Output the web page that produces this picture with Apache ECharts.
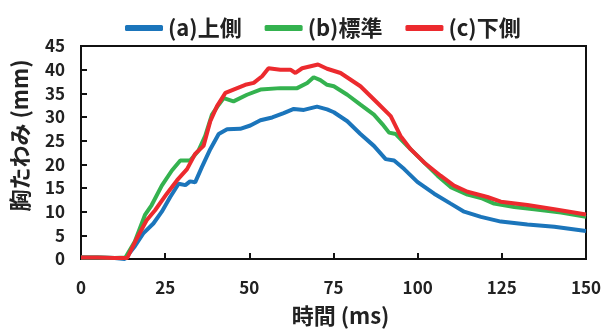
<!DOCTYPE html>
<html><head><meta charset="utf-8">
<script src="https://cdn.jsdelivr.net/npm/echarts@6/dist/echarts.min.js"></script>
<style>html,body{margin:0;padding:0;background:#fff}#c{width:609px;height:332px}</style>
</head><body><div id="c"></div>
<script>
const seriesNames = ['(a)上側', '(b)標準', '(c)下側'];
const xTicks = [0, 25, 50, 75, 100, 125, 150];
const yTicks = [0, 5, 10, 15, 20, 25, 30, 35, 40, 45];
const upper = [[0,0.3],[5,0.3],[10,0.2],[13,0.0],[16,2.7],[18.5,5.4],[21.5,7.5],[24,10],[26.5,13.1],[29,15.9],[31,15.6],[32.4,16.4],[33.9,16.2],[35.9,19.4],[38.4,23.2],[40.9,26.4],[43.4,27.4],[47.3,27.5],[50.3,28.2],[53.3,29.3],[56.8,29.9],[60.2,30.8],[63.2,31.7],[66.2,31.5],[70.1,32.2],[73.1,31.6],[75.1,31.0],[79.1,29.1],[83,26.4],[87,23.9],[90.5,21.1],[93,20.8],[96,19],[99.9,16.3],[104.9,13.8],[109.8,11.7],[113.8,10],[118.8,8.9],[124.7,7.9],[132.6,7.3],[140.6,6.8],[150,5.9]];
const standard = [[0,0.3],[5,0.3],[10,0.2],[13.2,0.3],[16,3.7],[19,9.3],[21,11.4],[24,15.5],[27,18.7],[29.5,20.8],[32.4,20.8],[34.9,22.9],[36.9,26],[38.9,30.5],[40.9,32.6],[42.4,34],[45.3,33.3],[49.3,34.7],[53.3,35.8],[59.2,36.1],[64.2,36.1],[67.2,37.2],[69.1,38.4],[71.1,37.8],[73.1,36.8],[75.1,36.5],[79.1,34.7],[83,32.6],[87,30.5],[89.5,28.5],[91.5,26.7],[93.5,26.4],[96.9,23.9],[100.9,21.1],[105.9,17.6],[109.8,15.2],[114.8,13.6],[118.8,12.9],[122.7,11.7],[128.7,11],[134.6,10.5],[142.6,9.8],[150,8.9]];
const lower = [[0,0.3],[5,0.3],[10,0.2],[13.7,0.2],[16.6,4.4],[19.5,8.2],[22,10.3],[25.5,13.8],[28.5,16.6],[31.5,19],[33.9,22.2],[36.4,23.9],[38.4,29.1],[40.4,32.3],[42.9,35.1],[45.3,35.8],[48.8,36.8],[51.3,37.2],[53.8,38.6],[55.7,40.3],[59.2,40],[62.2,40],[63.7,39.3],[65.7,40.3],[70.4,41.1],[73.1,40.2],[77.1,39.3],[83,36.5],[88,33],[92,30.2],[94.9,26],[97.9,23.2],[101.9,20.4],[106.8,17.6],[110.8,15.5],[114.8,14.2],[120.7,13.1],[124.7,12.1],[132.6,11.4],[140.6,10.5],[150,9.4]];
const colors = ['#1b75bb', '#34b24f', '#ec2a2e'];
const chart = echarts.init(document.getElementById('c'));
const font = '"Noto Sans CJK JP", "Noto Sans", sans-serif';
const mk = (name, data, color) => ({
  name, type: 'line', data, showSymbol: false, symbol: 'none', smooth: false,
  lineStyle: { color, width: 4 }, itemStyle: { color }
});
chart.setOption({
  animation: false,
  legend: {
    top: 12, left: 120, itemGap: 23, itemWidth: 38, itemHeight: 6, icon: 'roundRect',
    textStyle: { fontFamily: font, fontWeight: 'bold', fontSize: 22, color: '#222' },
    data: seriesNames
  },
  grid: { left: 81, right: 23, top: 46, bottom: 71, show: true, borderColor: '#111', borderWidth: 2, containLabel: false },
  xAxis: {
    type: 'value', min: 0, max: 150, interval: 25,
    name: '時間 (ms)', nameLocation: 'middle', nameGap: 46,
    nameTextStyle: { fontFamily: font, fontWeight: 'bold', fontSize: 22, color: '#222', padding: [0, 0, 0, 14] },
    axisLine: { lineStyle: { color: '#111', width: 2 } },
    axisTick: { inside: true, length: 6, lineStyle: { color: '#111', width: 2 } },
    axisLabel: { fontFamily: font, fontWeight: 'bold', fontSize: 17, color: '#222', margin: 20,
      formatter: v => xTicks.includes(v) ? String(v) : '' },
    splitLine: { show: false }
  },
  yAxis: {
    type: 'value', min: 0, max: 45, interval: 5,
    name: '胸たわみ (mm)', nameLocation: 'middle', nameGap: 50, nameRotate: 90,
    nameTextStyle: { fontFamily: font, fontWeight: 'bold', fontSize: 22, color: '#222', padding: [0, 0, 0, 34] },
    axisLine: { lineStyle: { color: '#111', width: 2 } },
    axisTick: { inside: true, length: 6, lineStyle: { color: '#111', width: 2 } },
    axisLabel: { fontFamily: font, fontWeight: 'bold', fontSize: 17, color: '#222', margin: 16,
      formatter: v => yTicks.includes(v) ? String(v) : '' },
    splitLine: { show: false }
  },
  series: [mk(seriesNames[0], upper, colors[0]), mk(seriesNames[1], standard, colors[1]), mk(seriesNames[2], lower, colors[2])]
});
</script></body></html>
